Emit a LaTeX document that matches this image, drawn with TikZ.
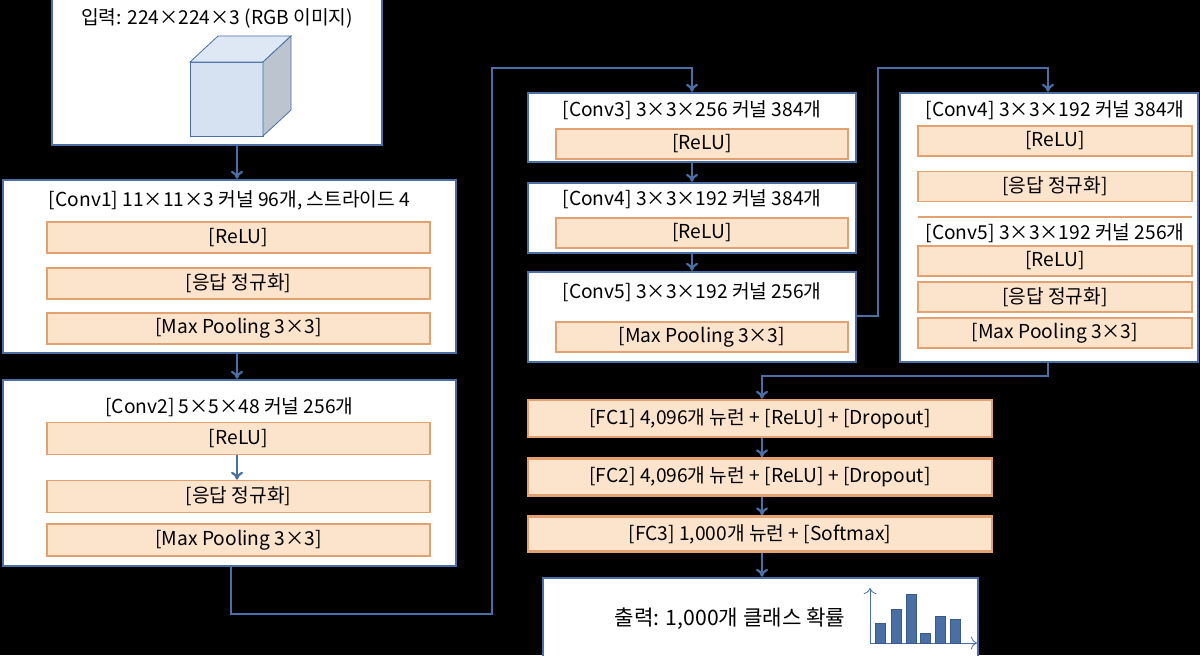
\documentclass[tikz,border=0pt]{standalone}
\usepackage{fontspec}
\setmainfont{Noto Sans CJK KR}
\usetikzlibrary{arrows.meta}
\definecolor{layerblue}{HTML}{4A6FA5}
\definecolor{opfill}{HTML}{FCE3CC}
\definecolor{opdraw}{HTML}{E3A070}
\definecolor{cubefill}{HTML}{D6E2F2}
\begin{document}
\begin{tikzpicture}[
  x=0.5pt, y=-0.5pt,
  layer/.style={rectangle, draw=layerblue, fill=white, line width=1.2pt, inner sep=0pt},
  op/.style={rectangle, draw=opdraw, fill=opfill, line width=0.8pt, inner sep=0pt, minimum height=15.5pt, font=\fontsize{9.6}{11}\selectfont},
  title/.style={font=\fontsize{9.6}{11}\selectfont, inner sep=0pt},
  flow/.style={draw=layerblue, line width=1.1pt, -{To[length=4pt,width=6pt]}}
]
\fill[black] (0,0) rectangle (1200,655);
\useasboundingbox (0,0) rectangle (1200,655);

% Input image
\node[layer, minimum width=165pt, minimum height=75pt] (input) at (217,70) {};
\node[title] (input-t) at (217,18) {입력: 224×224×3 (RGB 이미지)};
\draw[layerblue, fill=cubefill] (190,62) rectangle (263,136);
\draw[layerblue, fill=cubefill!80!white] (190,62) -- (218,36) -- (291,36) -- (263,62) -- cycle;
\draw[layerblue, fill=cubefill!70!gray] (263,62) -- (291,36) -- (291,110) -- (263,136) -- cycle;

% Conv1
\node[layer, minimum width=226.5pt, minimum height=86.5pt] (conv1) at (229.5,266.5) {};
\node[title] (conv1-t) at (229.5,200) {[Conv1] 11×11×3 커널 96개, 스트라이드 4};
\node[op, minimum width=191.5pt] (conv1-relu) at (238.5,237.5) {[ReLU]};
\node[op, minimum width=191.5pt] (conv1-lrn) at (238.5,283.5) {[응답 정규화]};
\node[op, minimum width=191.5pt] (conv1-pool) at (238.5,328.5) {[Max Pooling 3×3]};

% Conv2
\node[layer, minimum width=226.5pt, minimum height=93pt] (conv2) at (229.5,473) {};
\node[title] (conv2-t) at (229.5,407) {[Conv2] 5×5×48 커널 256개};
\node[op, minimum width=191.5pt, minimum height=16pt] (conv2-relu) at (238.5,438.5) {[ReLU]};
\node[op, minimum width=191.5pt, minimum height=16pt] (conv2-lrn) at (238.5,496.5) {[응답 정규화]};
\node[op, minimum width=191.5pt, minimum height=16pt] (conv2-pool) at (238.5,540) {[Max Pooling 3×3]};

% Conv3 - Conv5 (middle column)
\node[layer, minimum width=164pt, minimum height=34.5pt] (conv3) at (692,127.5) {};
\node[title] (conv3-t) at (692,110) {[Conv3] 3×3×256 커널 384개};
\node[op, minimum width=146pt, minimum height=15pt] (conv3-relu) at (702,144) {[ReLU]};
\node[layer, minimum width=164pt, minimum height=35pt] (conv4) at (692,218) {};
\node[title] (conv4-t) at (692,199) {[Conv4] 3×3×192 커널 384개};
\node[op, minimum width=146pt, minimum height=15pt] (conv4-relu) at (702,233) {[ReLU]};
\node[layer, minimum width=164pt, minimum height=45pt] (conv5) at (692,317) {};
\node[title] (conv5-t) at (692,292) {[Conv5] 3×3×192 커널 256개};
\node[op, minimum width=146pt, minimum height=15pt] (conv5-pool) at (702,337) {[Max Pooling 3×3]};

% Conv4 - Conv5 (right column)
\node[layer, minimum width=149pt, minimum height=134.5pt] (right) at (1049,227.5) {};
\node[title] (rconv4-t) at (1055,110) {[Conv4] 3×3×192 커널 384개};
\node[op, minimum width=137pt, minimum height=15pt] (rconv4-relu) at (1055,141) {[ReLU]};
\node[op, minimum width=137pt, minimum height=15pt] (rconv4-lrn) at (1055,186.5) {[응답 정규화]};
\draw[opdraw, line width=0.8pt] (918,217) -- (1192,217);
\node[title] (rconv5-t) at (1055,233) {[Conv5] 3×3×192 커널 256개};
\node[op, minimum width=137pt, minimum height=15pt] (rconv5-relu) at (1055,261) {[ReLU]};
\node[op, minimum width=137pt, minimum height=15pt] (rconv5-lrn) at (1055,297) {[응답 정규화]};
\node[op, minimum width=137pt, minimum height=15pt] (rconv5-pool) at (1055,333) {[Max Pooling 3×3]};

% Fully connected layers
\node[op, minimum width=232pt, minimum height=18.5pt, line width=1.2pt] (fc1) at (760,418.5) {[FC1] 4,096개 뉴런 + [ReLU] + [Dropout]};
\node[op, minimum width=232pt, minimum height=18.5pt, line width=1.2pt] (fc2) at (760,477) {[FC2] 4,096개 뉴런 + [ReLU] + [Dropout]};
\node[op, minimum width=232pt, minimum height=17.5pt, line width=1.2pt] (fc3) at (760,534) {[FC3] 1,000개 뉴런 + [Softmax]};

% Output
\node[layer, minimum width=217.5pt, minimum height=41pt] (output) at (760.5,619) {};
\node[title, font=\fontsize{10.6}{12}\selectfont] (output-t) at (730,619) {출력: 1,000개 클래스 확률};
\draw[layerblue, -{To[length=3pt]}] (870,643) -- (870,588);
\draw[layerblue, -{To[length=3pt]}] (870,643) -- (977,643);
\foreach \bx/\by in {875/623, 891/609, 906/594, 920/633, 935/616, 950/619}
  \draw[layerblue!80!black, fill=layerblue] (\bx,\by) rectangle (\bx+10,643);

% Connectors
\draw[flow] (input.south -| 237,0) -- (conv1.north -| 237,0);
\draw[flow] (conv1.south -| 237,0) -- (conv2.north -| 237,0);
\draw[flow] (conv2-relu.south -| 237,0) -- (conv2-lrn.north -| 237,0);
\draw[flow] (conv2.south -| 231,0) -- (231,614) -- (492,614) -- (492,68) -- (692,68) -- (conv3);
\draw[flow] (conv3) -- (conv4);
\draw[flow] (conv4) -- (conv5);
\draw[flow] (conv5.east |- 0,316) -- (878,316) -- (878,68) -- (1048,68) -- (right.north -| 1048,0);
\draw[flow] (right.south -| 1048,0) -- (1048,376) -- (762,376) -- (fc1.north -| 762,0);
\draw[flow] (fc1.south -| 762,0) -- (fc2.north -| 762,0);
\draw[flow] (fc2.south -| 762,0) -- (fc3.north -| 762,0);
\draw[flow] (fc3.south -| 762,0) -- (output.north -| 762,0);

\end{tikzpicture}
\end{document}
